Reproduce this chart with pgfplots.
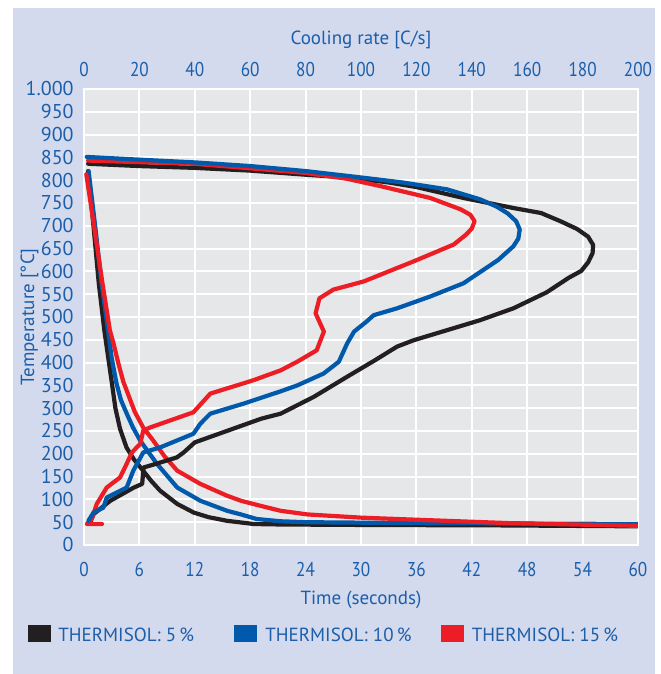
\documentclass[border=0pt]{standalone}
\usepackage{pgfplots}
\pgfplotsset{compat=1.18}
\usepackage{fontspec}
\setmainfont{PT Sans}
\newfontfamily\condfont[FakeStretch=0.86]{PT Sans}
\definecolor{lav}{RGB}{211,218,237}
\definecolor{plotbg}{RGB}{230,231,233}
\definecolor{textblue}{RGB}{28,94,170}
\definecolor{cblue}{RGB}{0,89,170}
\definecolor{cred}{RGB}{236,29,37}
\definecolor{cblack}{RGB}{35,31,32}

\pgfplotstableread{
t T
0.45 820
1.1 684
1.6 574
2.2 471
2.7 400
3.0 358
3.4 300
3.9 255
4.6 214
5.4 188
6.4 163
7.3 140
8.25 119
10.1 90
11.9 71
13.5 61
15.5 53
18.4 46
21.3 45
30 44
45 43
60 41
}\coolblack
\pgfplotstableread{
t T
0.5 820
1.3 684
1.9 574
2.6 471
3.0 410
3.5 356
4.0 318
4.63 288
5.3 258
6.08 229
7.9 178
10.1 126
12.6 97
15.5 75
17 67
18.7 57
21.3 52
24 50
36 48
60 46
}\coolblue
\pgfplotstableread{
t T
0.25 813
1.2 684
2.0 574
2.8 471
3.2 442
3.7 400
4.26 358
5.5 292
6.4 258
7.5 229
8.7 195
10.1 163
12.6 134
15.5 108
17 97
19.1 86
21.3 75
24.2 67
30 60
35.2 56
46 48
60 42
}\coolred

\pgfplotstableread{
r T
1.5 836
20 831
40 827
60 821
80 812
95 806
110 795
120 785
137 761
155 739
165 728
172 710
178 693
182 676
183.8 658
183.6 640
182 620
179.5 601
175 586
167 554
155 519
143 493
131 471
119 449
113 435
105 405
95 369
83 325
71 288
64 277
52 251
40 225
36 203
33.5 192
26 178
21.5 170
21 134
18 126
9.5 97
3.5 68
2 46
}\rateblack
\pgfplotstableread{
r T
1 851
20 845
40 839
60 831
80 820
100 806
115 795
131 780
143 758
149 742
153 727
156 710
157.3 692
156.8 672
155 655
149.5 625
137 574
125 545
113 519
104.6 504
102 490
97.5 468
95 442
92 402
86.5 376
77 350
71 337
57.6 310
45.6 288
42 266
39.5 244
27.5 214
21.4 203
17.8 163
15.4 126
8.2 104
7 82
3.4 71
1.6 53
}\rateblue
\pgfplotstableread{
r T
1.5 843
40 836
80 816
95 803
107 787
125 761
136 736
139.5 724
141 710
140 694
138 681
133.5 659
119 622
101 578
90 560
85 541
83.6 508
86.6 468
84 427
77 402
71 383
61 361
45.6 332
39.5 291
24 258
21.4 251
20.3 222
17.3 203
15.4 178
13 148
8.2 126
4.6 90
2.8 57
1 46
6.5 46
}\ratered

\begin{document}
\begin{tikzpicture}[x=0.5pt,y=0.5pt]
\fill[white] (0,0) rectangle (660,674);
\fill[lav] (13,0) rectangle (655,666);
\begin{axis}[
  at={(42pt,64.5pt)}, anchor=south west,
  scale only axis, width=277pt, height=228pt,
  xmin=0, xmax=60, ymin=0, ymax=1000,
  axis background/.style={fill=plotbg},
  axis line style={white, line width=1.3pt},
  grid=major, grid style={white, line width=1pt},
  xtick={0,6,...,60}, ytick={0,50,...,1000},
  major tick length=0pt, tick style={draw=none},
  ticklabel style={text=textblue},
  xticklabel style={font=\condfont\fontsize{10}{12}\selectfont, inner sep=0pt, anchor=north, yshift=-8.5pt},
  yticklabel style={font=\fontsize{10}{12}\selectfont, inner sep=0pt, anchor=east, xshift=-5pt},
  /pgf/number format/1000 sep={.},
  /pgf/number format/assume math mode=true,
  every axis plot/.append style={line width=2.1pt, line join=round, line cap=round},
]
\addplot[cblack] table[x=t,y=T] {\coolblack};
\addplot[cblue] table[x=t,y=T] {\coolblue};
\addplot[cred] table[x=t,y=T] {\coolred};
\end{axis}
\begin{axis}[
  at={(42pt,64.5pt)}, anchor=south west,
  scale only axis, width=277pt, height=228pt,
  xmin=0, xmax=200, ymin=0, ymax=1000,
  axis x line*=top, axis y line=none,
  axis line style={draw=none},
  xtick={0,20,...,200},
  major tick length=0pt, tick style={draw=none},
  xticklabel style={font=\condfont\fontsize{10}{12}\selectfont, text=textblue, inner sep=0pt, anchor=south, yshift=5.7pt},
  /pgf/number format/assume math mode=true,
  every axis plot/.append style={line width=2.1pt, line join=round, line cap=round},
]
\addplot[cblack] table[x=r,y=T] {\rateblack};
\addplot[cred] table[x=r,y=T] {\ratered};
\addplot[cblue] table[x=r,y=T] {\rateblue};
\end{axis}
\begin{scope}[every node/.style={text=textblue, inner sep=0pt, font=\fontsize{9.5}{11}\selectfont}]
\node[anchor=base] at (361,629) {Cooling rate [C/s]};
\node[anchor=base] at (361,69) {Time (seconds)};
\node[anchor=base, rotate=90] at (34,357) {Temperature [°C]};
\fill[cblack] (28,32) rectangle (51,49);
\node[anchor=base west] at (58,32.3) {THERMISOL: 5\,\%};
\fill[cblue] (234,32) rectangle (257,49);
\node[anchor=base west] at (265,32.3) {THERMISOL: 10\,\%};
\fill[cred] (441,32) rectangle (464,49);
\node[anchor=base west] at (471.5,32.3) {THERMISOL: 15\,\%};
\end{scope}
\end{tikzpicture}
\end{document}
